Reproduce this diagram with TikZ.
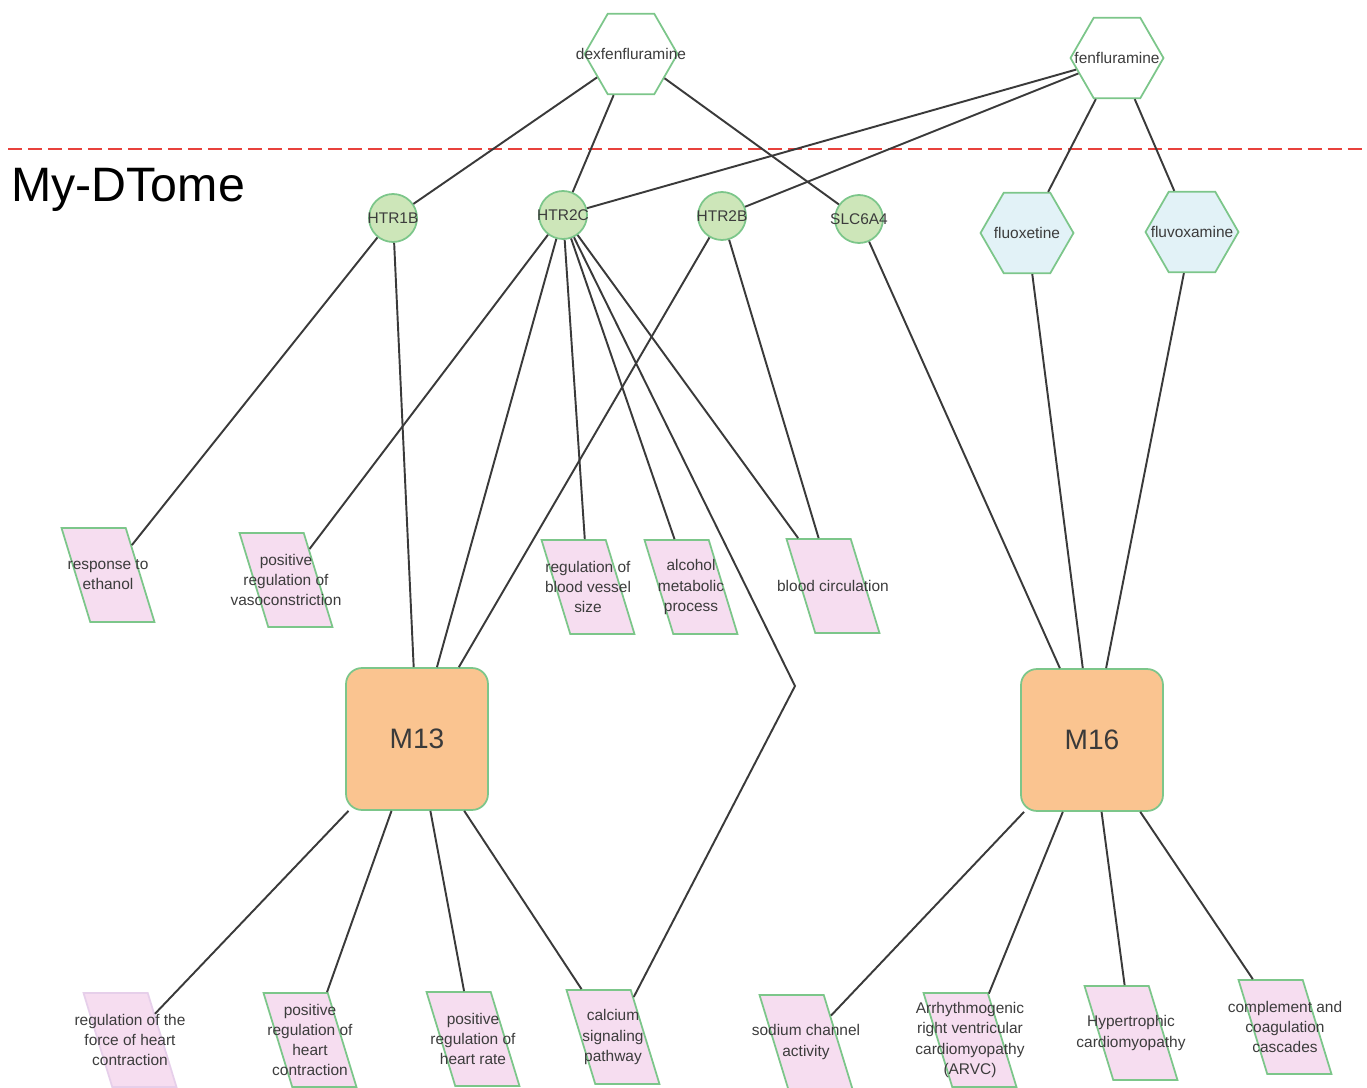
\documentclass[tikz,border=0pt]{standalone}
\usepackage{fontspec}
\setmainfont{Liberation Sans}
\usetikzlibrary{shapes.geometric}
\definecolor{linkgray}{HTML}{3A3A3A}
\definecolor{labelgray}{HTML}{3C3C3C}
\definecolor{nodegreen}{HTML}{7CC68A}
\definecolor{genefill}{HTML}{CDE6B9}
\definecolor{drugblue}{HTML}{E2F2F7}
\definecolor{termpink}{HTML}{F6DDF0}
\definecolor{faintpink}{HTML}{E6CFEA}
\definecolor{modorange}{HTML}{FAC490}
\definecolor{cutred}{HTML}{E8413C}
\tikzset{
  every label/.style={text=labelgray, font=\fontsize{8.8}{11.4}\selectfont, align=center},
  gene/.style={circle, draw=nodegreen, fill=genefill, line width=1pt, minimum size=0.96cm, inner sep=0pt, label={center:#1}},
  drug/.style={regular polygon, regular polygon sides=6, draw=nodegreen, fill=white, line width=1pt, minimum size=1.86cm, inner sep=0pt, label={center:#1}},
  term/.style={trapezium, trapezium left angle=107, trapezium right angle=73, draw=nodegreen, fill=termpink, line width=1pt, inner sep=0pt, text width=0.71cm, text height=1.88cm, text depth=0pt, label={center:#1}},
  module/.style={rectangle, rounded corners=0.32cm, draw=nodegreen, fill=modorange, line width=1pt, minimum size=2.84cm, text=linkgray, font=\fontsize{16}{19}\selectfont},
  link/.style={draw=linkgray, line width=1.1pt}
}
\begin{document}
\begin{tikzpicture}[x=0.02cm, y=-0.02cm]
  \useasboundingbox (0,0) rectangle (1367,1088);
  % cut line and database name
  \coordinate (cutL) at (8,149);
  \coordinate (cutR) at (1367,149);
  \draw[cutred, line width=1.1pt, dash pattern=on 0.28cm off 0.12cm] (cutL) -- (cutR);
  \node at (11,190) [anchor=west, inner sep=0pt, font=\fontsize{27.5}{30}\selectfont] (dtome) {My-DTome};
  % drugs
  \node at (631,54) [drug=dexfenfluramine] (dex) {};
  \node at (1117,58) [drug=fenfluramine] (fen) {};
  \node at (1027,233) [drug=fluoxetine, fill=drugblue] (fluox) {};
  \node at (1192,232) [drug=fluvoxamine, fill=drugblue] (fluvox) {};
  % targets
  \node at (393,218) [gene=HTR1B] (htr1b) {};
  \node at (563,215) [gene=HTR2C] (htr2c) {};
  \node at (722,216) [gene=HTR2B] (htr2b) {};
  \node at (859,219) [gene=SLC6A4] (slc) {};
  % modules
  \node at (417,739) [module] (m13) {M13};
  \node at (1092,740) [module] (m16) {M16};
  % terms
  \node at (108,575) [term={response to\\ethanol}] (ethanol) {};
  \node at (286,580) [term={positive\\regulation of\\vasoconstriction}] (vaso) {};
  \node at (588,587) [term={regulation of\\blood vessel\\size}] (vessel) {};
  \node at (691,587) [term={alcohol\\metabolic\\process}] (alcohol) {};
  \node at (833,586) [term={blood circulation}] (circ) {};
  \node at (130,1040) [term={regulation of the\\force of heart\\contraction}, draw=faintpink] (force) {};
  \node at (310,1040) [term={positive\\regulation of\\heart\\contraction}] (contr) {};
  \node at (473,1039) [term={positive\\regulation of\\heart rate}] (rate) {};
  \node at (613,1037) [term={calcium\\signaling\\pathway}] (calcium) {};
  \node at (806,1042) [term={sodium channel\\activity}] (sodium) {};
  \node at (970,1040) [term={Arrhythmogenic\\right ventricular\\cardiomyopathy\\(ARVC)}] (arvc) {};
  \node at (1131,1033) [term={Hypertrophic\\cardiomyopathy}] (hcm) {};
  \node at (1285,1027) [term={complement and\\coagulation\\cascades}] (compl) {};
  % links
  \foreach \a/\b in {dex/htr1b, dex/htr2c, dex/slc, fen/htr2c, fen/htr2b, fen/fluox, fen/fluvox,
      htr1b/ethanol, htr1b/m13, htr2c/vaso, htr2c/m13, htr2c/vessel, htr2c/alcohol, htr2c/circ,
      htr2b/m13, htr2b/circ, slc/m16, fluox/m16, fluvox/m16,
      m13/force, m13/contr, m13/rate, m13/calcium,
      m16/sodium, m16/arvc, m16/hcm, m16/compl}
    \draw[link] (\a) -- (\b);
  \coordinate (bend) at (795,686);
  \draw[link] (htr2c) -- (bend) -- (calcium);
\end{tikzpicture}
\end{document}
